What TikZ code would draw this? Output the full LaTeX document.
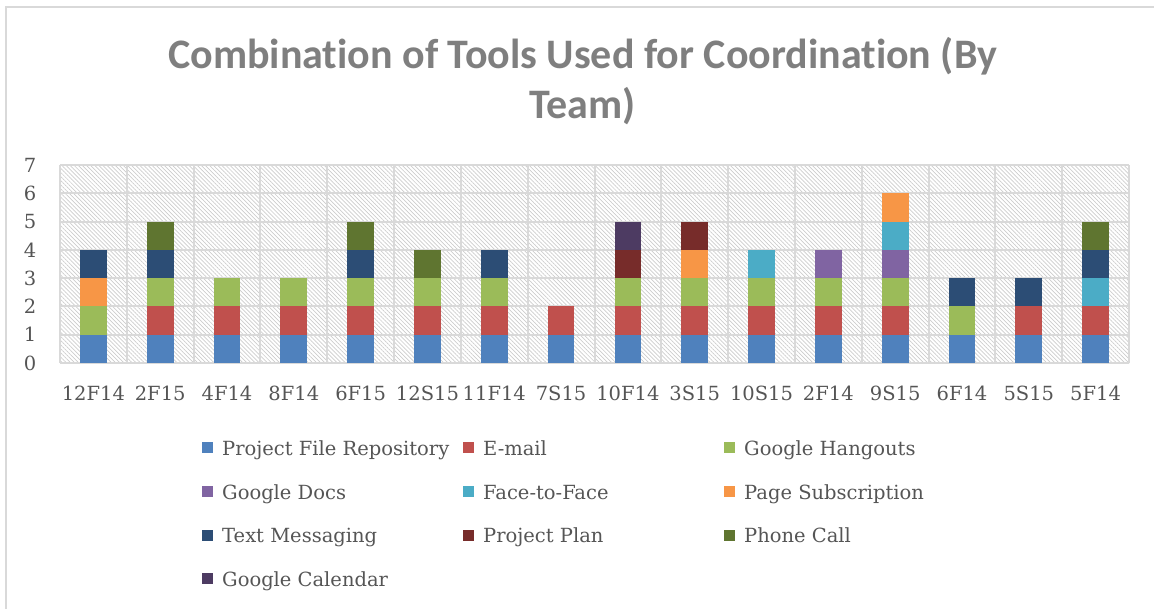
\documentclass[tikz,border=0pt]{standalone}
\usepackage{fontspec}
\setmainfont{DejaVu Serif}
\newfontfamily\titlefont[Ligatures={NoCommon}]{Carlito}
\usetikzlibrary{patterns.meta}
\definecolor{cPfr}{HTML}{4F81BD}
\definecolor{cMail}{HTML}{C0504D}
\definecolor{cHang}{HTML}{9BBB59}
\definecolor{cDocs}{HTML}{8064A2}
\definecolor{cFtf}{HTML}{4BACC6}
\definecolor{cPage}{HTML}{F79646}
\definecolor{cText}{HTML}{2C4D75}
\definecolor{cPlan}{HTML}{772C2A}
\definecolor{cPhone}{HTML}{5F7530}
\definecolor{cCal}{HTML}{4D3B62}
\definecolor{gridc}{HTML}{D9D9D9}
\definecolor{hatchc}{HTML}{CCCCCC}
\definecolor{txt}{HTML}{555555}
\definecolor{ttl}{HTML}{7F7F7F}
\newcommand\stackbar[3]{%
  \pgfmathsetmacro\cx{60+(#1-0.5)*66.8125}
  \foreach \c [count=\j] in {#3} {
    \fill[fill=\c] ({\cx-13.35},{363-(\j-1)*28.2857}) rectangle ({\cx+13.35},{363-\j*28.2857});
  }
  \node[lab, anchor=base] (x#1) at (\cx,400) {#2};
}
\newcommand\legitem[5]{% name, col, row, color, text
  \pgfmathsetmacro\lx{202+(#2-1)*261}
  \pgfmathsetmacro\ly{442+(#3-1)*43.7}
  \node[fill=#4, minimum size=11pt, inner sep=0pt, anchor=north west] (m#1) at (\lx,\ly) {};
  \node[lab, anchor=base west] (l#1) at ({\lx+20},{\ly+13.5}) {#5};
}
\begin{document}
\begin{tikzpicture}[x=1pt,y=-1pt,
  lab/.style={text=txt,font=\fontsize{19.5}{22}\selectfont,inner sep=0pt},
  ttlstyle/.style={text=ttl,font=\titlefont\bfseries\fontsize{42}{50}\selectfont,inner sep=0pt},
  grid/.style={draw=gridc,line width=2pt}]
\useasboundingbox (0,0) rectangle (1154,608);
% chart border
\draw[grid, line width=1.5pt] (6,612) -- (6,7) -- (1160,7);
% title
\node[ttlstyle, anchor=base] (t1) at (582.5,68) {Combination of Tools Used for Coordination (By};
\node[ttlstyle, anchor=base] (t2) at (582.5,118) {Team)};
% plot area
\fill[pattern={Lines[angle=-45,distance=2.9pt,line width=0.7pt]}, pattern color=hatchc] (60,165) rectangle (1129,363);
\foreach \k in {0,...,7} {
  \draw[grid] (60,{363-\k*28.2857}) -- (1129,{363-\k*28.2857});
  \node[lab] (y\k) at (30,{363-\k*28.2857}) {\k};
}
\foreach \k in {0,...,16} {
  \draw[grid] ({60+\k*66.8125},165) -- ({60+\k*66.8125},363);
}
% bars
\stackbar{1}{12F14}{cPfr,cHang,cPage,cText}
\stackbar{2}{2F15}{cPfr,cMail,cHang,cText,cPhone}
\stackbar{3}{4F14}{cPfr,cMail,cHang}
\stackbar{4}{8F14}{cPfr,cMail,cHang}
\stackbar{5}{6F15}{cPfr,cMail,cHang,cText,cPhone}
\stackbar{6}{12S15}{cPfr,cMail,cHang,cPhone}
\stackbar{7}{11F14}{cPfr,cMail,cHang,cText}
\stackbar{8}{7S15}{cPfr,cMail}
\stackbar{9}{10F14}{cPfr,cMail,cHang,cPlan,cCal}
\stackbar{10}{3S15}{cPfr,cMail,cHang,cPage,cPlan}
\stackbar{11}{10S15}{cPfr,cMail,cHang,cFtf}
\stackbar{12}{2F14}{cPfr,cMail,cHang,cDocs}
\stackbar{13}{9S15}{cPfr,cMail,cHang,cDocs,cFtf,cPage}
\stackbar{14}{6F14}{cPfr,cHang,cText}
\stackbar{15}{5S15}{cPfr,cMail,cText}
\stackbar{16}{5F14}{cPfr,cMail,cFtf,cText,cPhone}
% legend
\legitem{1}{1}{1}{cPfr}{Project File Repository}
\legitem{2}{2}{1}{cMail}{E-mail}
\legitem{3}{3}{1}{cHang}{Google Hangouts}
\legitem{4}{1}{2}{cDocs}{Google Docs}
\legitem{5}{2}{2}{cFtf}{Face-to-Face}
\legitem{6}{3}{2}{cPage}{Page Subscription}
\legitem{7}{1}{3}{cText}{Text Messaging}
\legitem{8}{2}{3}{cPlan}{Project Plan}
\legitem{9}{3}{3}{cPhone}{Phone Call}
\legitem{10}{1}{4}{cCal}{Google Calendar}
\end{tikzpicture}
\end{document}
